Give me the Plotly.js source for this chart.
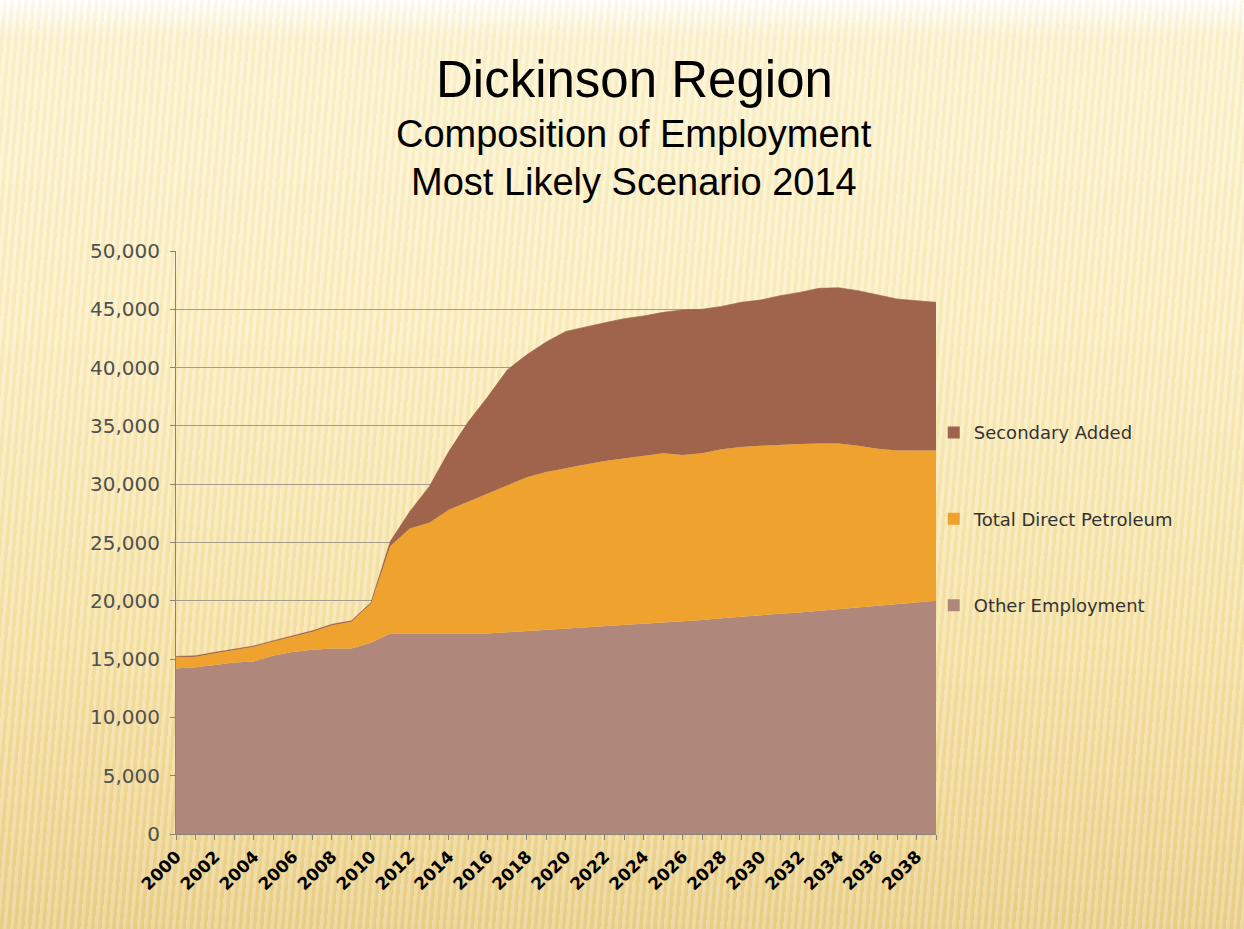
<!DOCTYPE html>
<html>
<head>
<meta charset="utf-8">
<script src="https://cdn.plot.ly/plotly-3.0.1.min.js"></script>
<style>
  html, body { margin: 0; padding: 0; }
  body {
    width: 1244px; height: 929px; overflow: hidden;
    background:
      repeating-linear-gradient(95deg, rgba(255,255,255,0.20) 0px, rgba(255,255,255,0.20) 3px, rgba(200,160,60,0.07) 4px, rgba(200,160,60,0.07) 7px),
      linear-gradient(to bottom, #ffffff 0%, #fdf4d2 4%, #fcefc3 35%, #f6e2a6 70%, #ead08b 100%);
  }
  #chart { width: 1244px; height: 929px; }
</style>
</head>
<body>
<div id="chart"></div>
<script>
const years = [2000,2001,2002,2003,2004,2005,2006,2007,2008,2009,2010,2011,2012,2013,2014,2015,2016,2017,2018,2019,2020,2021,2022,2023,2024,2025,2026,2027,2028,2029,2030,2031,2032,2033,2034,2035,2036,2037,2038,2039];
const otherEmployment = [14200,14300,14500,14700,14800,15300,15600,15800,15900,15900,16400,17200,17200,17200,17200,17200,17200,17300,17400,17500,17600,17700,17800,17900,18000,18100,18200,18350,18500,18650,18800,18900,19000,19150,19300,19450,19600,19750,19850,20000];
const totalDirectPetroleum = [950,900,1000,1080,1250,1200,1300,1550,2000,2300,3350,7500,9000,9500,10600,11300,12000,12600,13200,13550,13800,14000,14200,14300,14450,14550,14300,14300,14500,14550,14500,14500,14450,14350,14200,13850,13450,13150,13030,12880];
const secondaryAdded = [80,80,80,80,80,80,80,80,80,80,80,400,1450,3100,5000,6850,8300,9900,10500,11150,11700,11800,11850,12000,11980,12090,12450,12350,12250,12400,12500,12770,13000,13300,13350,13300,13180,12980,12860,12720];
const labelYears = [2000,2002,2004,2006,2008,2010,2012,2014,2016,2018,2020,2022,2024,2026,2028,2030,2032,2034,2036,2038];
const yTicks = [0,5000,10000,15000,20000,25000,30000,35000,40000,45000,50000];
const seriesNames = ['Other Employment', 'Total Direct Petroleum', 'Secondary Added'];
const seriesColors = ['#b0877b', '#efa22d', '#a0634b'];

const seriesData = [otherEmployment, totalDirectPetroleum, secondaryAdded];
const traces = seriesData.map((vals, i) => ({
  x: years, y: vals, name: seriesNames[i], type: 'scatter', mode: 'lines',
  stackgroup: 'one', showlegend: false,
  line: {width: i === 2 ? 0.6 : 0, color: i === 2 ? '#9a5e47' : seriesColors[i]},
  fillcolor: seriesColors[i]
}));
// legend entries (square keys), top to bottom: Secondary, Petroleum, Other
[2, 1, 0].forEach((i, k) => {
  traces.push({
    x: [null], y: [null], name: seriesNames[i], type: 'scatter', mode: 'markers',
    marker: {symbol: 'square', size: 12, color: seriesColors[i]},
    legendgroup: 'g' + k, showlegend: true
  });
});

const layout = {
  width: 1244, height: 929,
  margin: {l: 176, r: 308, t: 251, b: 95},
  paper_bgcolor: 'rgba(0,0,0,0)',
  plot_bgcolor: 'rgba(0,0,0,0)',
  showlegend: true,
  title: {
    text: 'Dickinson Region',
    font: {family: 'Liberation Sans, Arial, sans-serif', size: 51, color: '#000'},
    x: 0.51, xanchor: 'center', y: 0.915, yanchor: 'middle'
  },
  annotations: [
    {text: 'Composition of Employment', xref: 'paper', yref: 'paper', x: 0.602, y: 1.2007,
     xanchor: 'center', yanchor: 'middle', showarrow: false,
     font: {family: 'Liberation Sans, Arial, sans-serif', size: 38, color: '#000'}},
    {text: 'Most Likely Scenario 2014', xref: 'paper', yref: 'paper', x: 0.602, y: 1.118,
     xanchor: 'center', yanchor: 'middle', showarrow: false,
     font: {family: 'Liberation Sans, Arial, sans-serif', size: 38, color: '#000'}}
  ],
  xaxis: {
    type: 'linear', range: [2000, 2039],
    tickmode: 'array', tickvals: labelYears, ticktext: labelYears.map(String),
    tickangle: -45,
    tickfont: {family: 'DejaVu Sans, sans-serif', size: 17, color: '#000', weight: 'bold'},
    ticks: 'outside', ticklen: 5, tickcolor: '#8a8478',
    minor: {dtick: 1, ticks: 'outside', ticklen: 5, tickcolor: '#8a8478', showgrid: false},
    showgrid: false, zeroline: false,
    showline: true, linecolor: '#8a8478', linewidth: 1
  },
  yaxis: {
    range: [0, 50000], tickmode: 'array', tickvals: yTicks,
    ticktext: yTicks.map(v => v.toLocaleString('en-US')),
    tickfont: {family: 'DejaVu Sans, sans-serif', size: 20, color: '#505050'},
    ticks: 'outside', ticklen: 5, tickcolor: '#8a8478', ticklabelstandoff: 6,
    showgrid: true, gridcolor: '#a59d8c', gridwidth: 1,
    zeroline: false, showline: true, linecolor: '#8a8478', linewidth: 1
  },
  legend: {
    x: 0.997, xanchor: 'left', y: 0.72, yanchor: 'top',
    traceorder: 'grouped', tracegroupgap: 60,
    bgcolor: 'rgba(0,0,0,0)',
    font: {family: 'DejaVu Sans, sans-serif', size: 18, color: '#333'},
    itemwidth: 30
  }
};

Plotly.newPlot('chart', traces, layout, {displayModeBar: false, staticPlot: true});
</script>
</body>
</html>
